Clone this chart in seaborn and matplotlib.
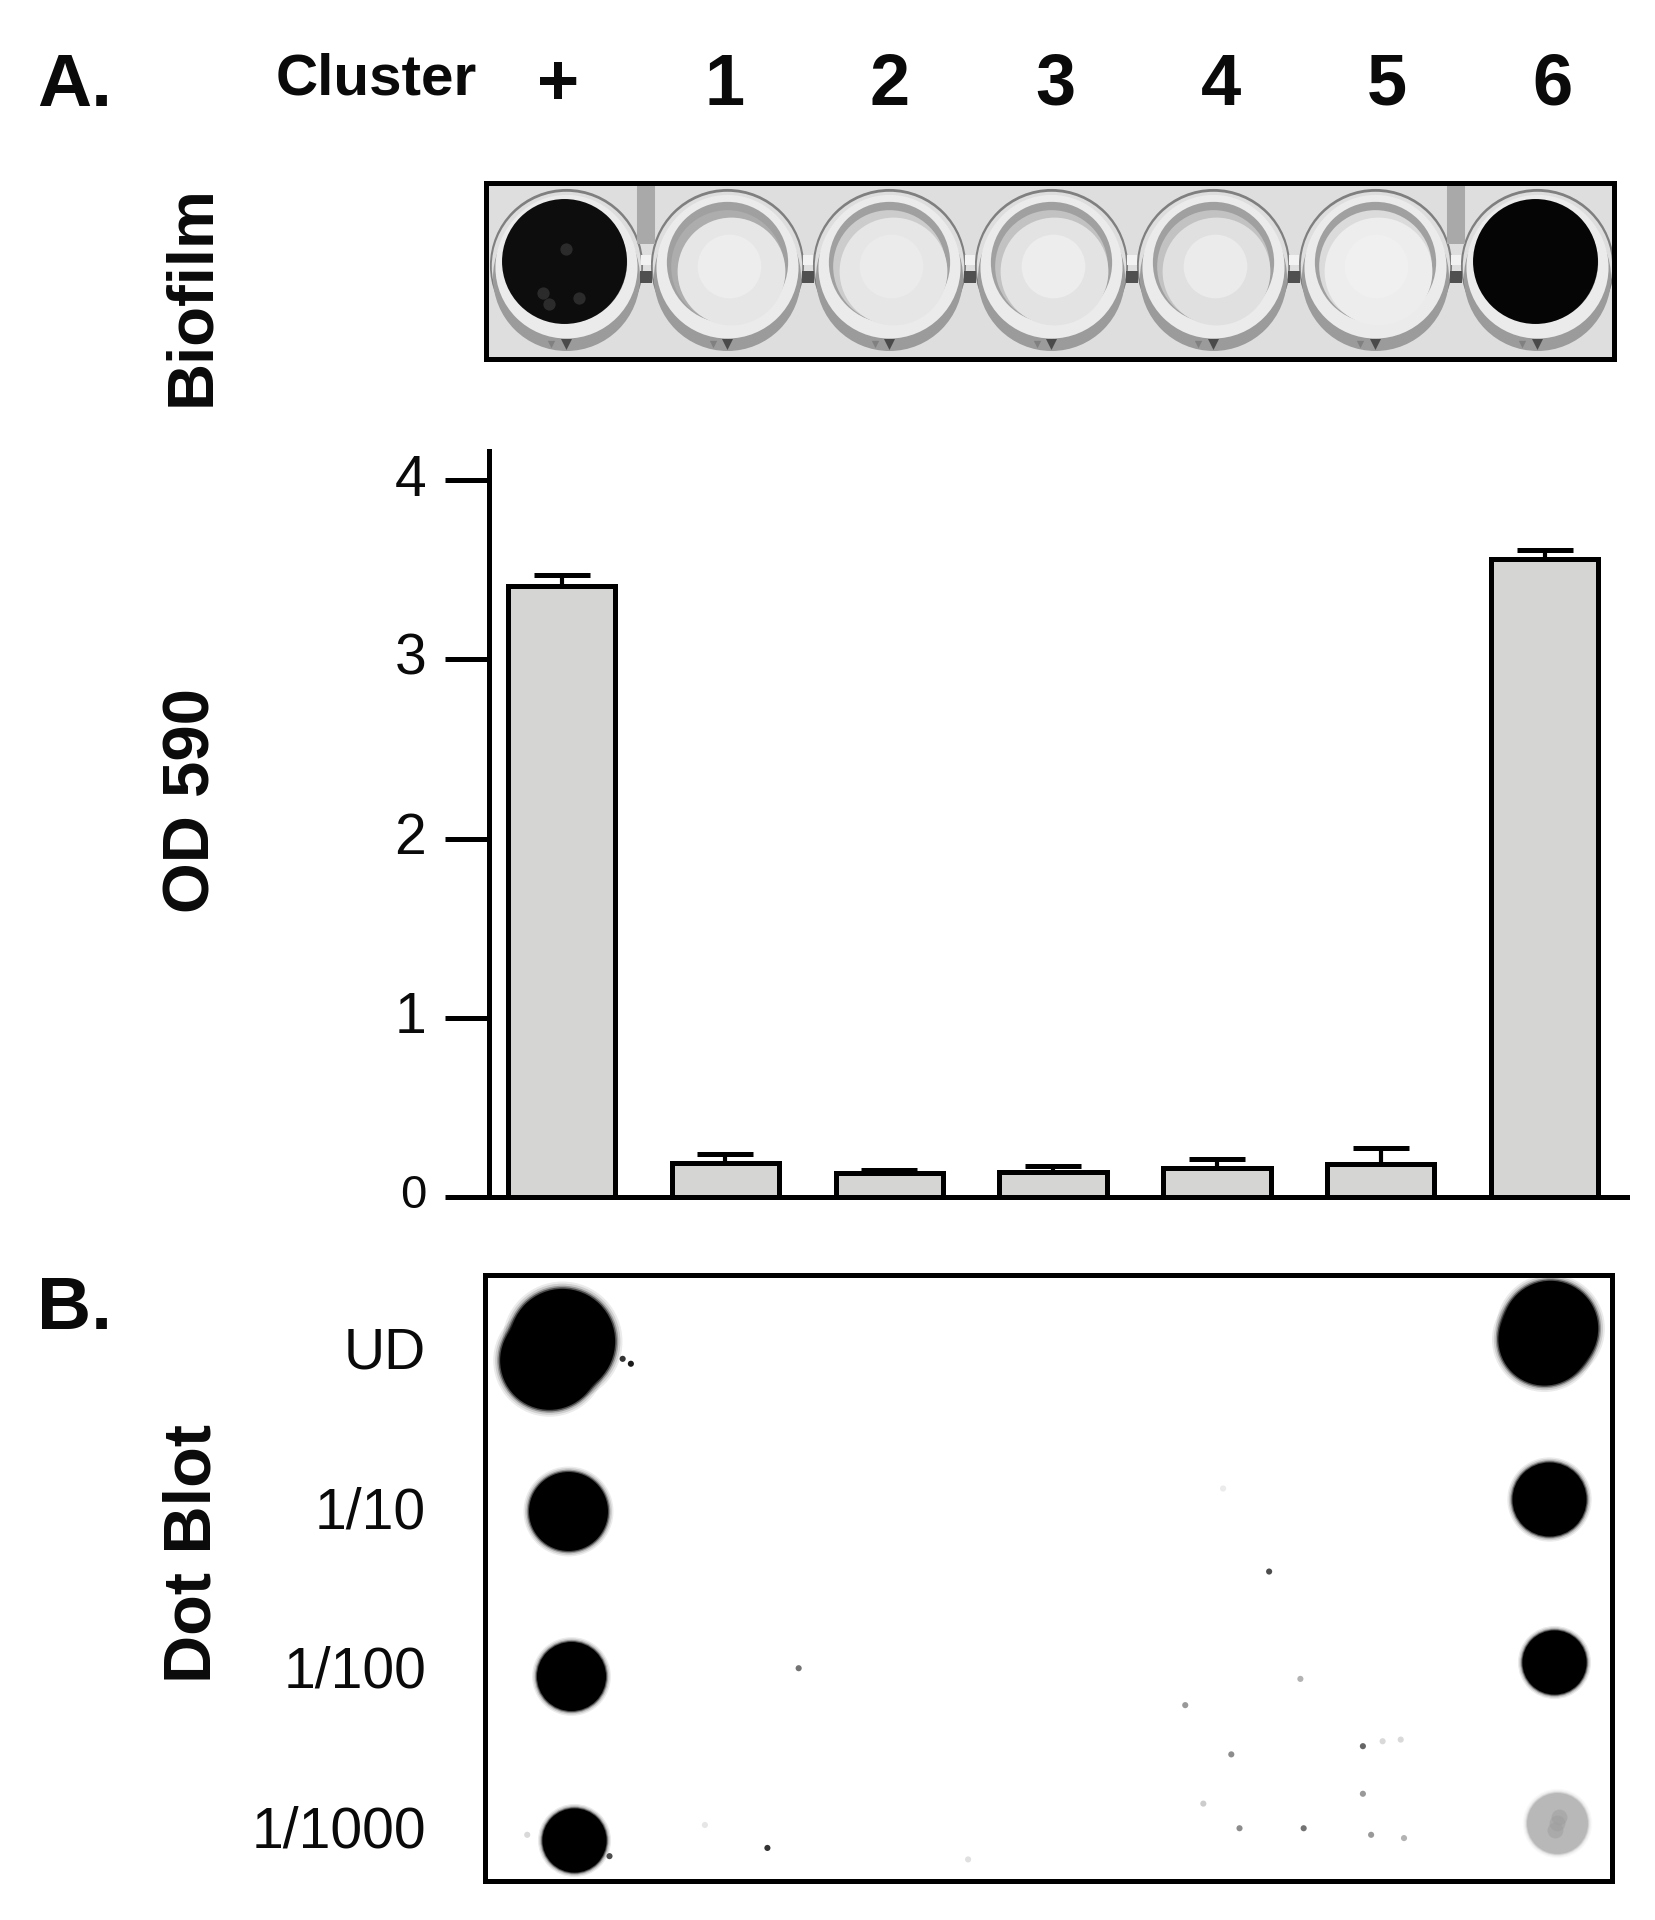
import matplotlib
matplotlib.use('Agg')
import matplotlib.pyplot as plt
from matplotlib.transforms import ScaledTranslation
import pandas as pd
import seaborn as sns

# bar panel values
clusters = ['+', '1', '2', '3', '4', '5', '6']
od_590 = [3.41, 0.19, 0.13, 0.14, 0.16, 0.18, 3.56]
od_err = [0.06, 0.05, 0.02, 0.03, 0.05, 0.09, 0.05]
od_ticks = [0, 1, 2, 3, 4]

# stained plate: grey level of each well floor (0 black, 1 white)
well_stain = [0.05, 0.90, 0.90, 0.89, 0.88, 0.93, 0.02]
well_centre = [None, 0.93, 0.92, 0.93, 0.92, 0.94, None]
well_shade = [None, 0.68, 0.80, 0.76, 0.76, 0.86, None]

# dot blot, cols are cluster positions and rows are dilution steps
dilutions = ['UD', '1/10', '1/100', '1/1000']
blot_col = [-0.01, -0.09, 0.03, 0.045, 0.067, 6.0, 5.96, 5.99, 6.02, 6.04]
blot_row = [-0.04, 0.08, 1.0, 2.0, 3.0, -0.12, -0.05, 0.925, 1.92, 2.90]
blot_size = [0.64, 0.60, 0.48, 0.42, 0.39, 0.58, 0.56, 0.45, 0.39, 0.37]
blot_grey = [0.0, 0.0, 0.0, 0.0, 0.0, 0.0, 0.0, 0.0, 0.0, 0.72]

speck_col = [1.43, 1.24, 4.29, 3.78, 4.48, 4.06, 4.86, 4.86, 4.11, 4.50, 4.91, 5.11,
             3.89, 4.98, 5.09, 4.01, 2.46, 0.86, 0.41, 0.36, 0.28, -0.22]
speck_row = [1.955, 3.05, 1.366, 2.18, 2.02, 2.48, 2.43, 2.72, 2.93, 2.93, 2.97, 2.99,
             2.78, 2.40, 2.39, 0.86, 3.12, 2.91, 0.10, 0.07, 3.10, 2.97]
speck_grey = [0.45, 0.2, 0.3, 0.6, 0.7, 0.55, 0.4, 0.6, 0.55, 0.45, 0.6, 0.7,
              0.8, 0.85, 0.85, 0.92, 0.88, 0.9, 0.1, 0.2, 0.3, 0.85]

WIDTH, HEIGHT = 1656, 1920
REF = 1656 / 1352  # layout was measured on a 1352 wide view
LINE = 3.6

sns.set_style('white')
plt.rcParams['font.family'] = ['Liberation Sans', 'DejaVu Sans']

figure = plt.figure(figsize=(WIDTH / 100, HEIGHT / 100), dpi=100, facecolor='white')


def panel(left, top, right, bottom):
    """Axes placed from edges measured on the reference view."""
    rect = [left * REF / WIDTH, 1 - bottom * REF / HEIGHT,
            (right - left) * REF / WIDTH, (bottom - top) * REF / HEIGHT]
    return figure.add_axes(rect)


def label(x, y, text, size, bold=False, ha='center', rotation=0):
    figure.text(x * REF / WIDTH, 1 - y * REF / HEIGHT, text, fontsize=size,
                fontweight='bold' if bold else 'normal', ha=ha, va='center',
                rotation=rotation, color='#0a0a0a')


def area(diameter):
    """Scatter size for a diameter given in reference view pixels."""
    return (diameter * REF * 0.72) ** 2


# plate photo
plate = panel(397, 149, 1318, 293)
plate.set_xlim(-0.49, 6.48)
plate.set_ylim(76, -68)
plate.set_facecolor('#dedede')
wells = pd.DataFrame({'well': range(7), 'floor': well_stain})


def well_layer(y, diameter, color):
    sns.scatterplot(data=wells, x='well', y=[y] * 7, s=area(diameter), color=color,
                    linewidth=0, legend=False, ax=plate)


plate.vlines([0.5, 5.5], -68, -18, color='#a9a9a9', linewidth=13)
well_layer(-1, 125, '#7f7f7f')
well_layer(0, 122, '#dedede')
well_layer(9, 120, '#9b9b9b')
well_layer(1, 116, '#ebebeb')
well_layer(-2, 112, '#ebebeb')
well_layer(-3, 99, '#a0a0a0')
for i, stain in enumerate(well_stain):
    grey = str(stain)
    if well_shade[i] is None:
        plate.scatter(i - 0.01, -4, s=area(102), color=grey, linewidth=0)
        continue
    plate.scatter(i, 0, s=area(92), color=str(well_shade[i]), linewidth=0)
    plate.scatter(i + 0.02, 4, s=area(88), color=grey, linewidth=0)
    plate.scatter(i + 0.01, 0, s=area(52), color=str(well_centre[i]), linewidth=0)
# stain is patchy in the positive control well
plate.scatter([-0.14, -0.1, 0.08, 0.0], [22, 31, 26, -14], s=area(10), color='#2b2b2b', linewidth=0)
# necks joining the wells and the moulded tabs under them
plate.scatter([0.5, 1.5, 2.5, 3.5, 4.5, 5.5], [-5] * 6, s=area(8), marker='s', color='#f2f2f2',
              linewidth=0)
plate.scatter([0.5, 1.5, 2.5, 3.5, 4.5, 5.5], [9] * 6, s=area(9), marker='s', color='#505050',
              linewidth=0)
plate.scatter(range(7), [64] * 7, s=area(9), marker='v', color='#4a4a4a', linewidth=0)
plate.scatter([i - 0.09 for i in range(7)], [64] * 7, s=area(6), marker='v', color='#808080', linewidth=0)
plate.set_xticks([])
plate.set_yticks([])
plate.set_xlabel('')
plate.set_ylabel('')
for spine in plate.spines.values():
    spine.set_linewidth(LINE)
    spine.set_color('black')

# OD bars
bars = panel(399, 368, 1328, 977)
sns.barplot(x=clusters, y=od_590, color='#d5d5d3', edgecolor='black', linewidth=LINE,
            width=0.655, saturation=1, ax=bars)
bars.errorbar(x=range(len(clusters)), y=od_590, yerr=[[0] * 7, od_err], fmt='none',
              ecolor='black', elinewidth=3, capsize=20, capthick=LINE, zorder=1)
bars.set_xlim(-0.445, 6.50)
bars.set_ylim(0, (976 - 367) / 146.2)
bars.set_xticks([])
bars.set_yticks(od_ticks)
bars.tick_params(axis='y', left=True, length=32, width=LINE, pad=13, labelsize=41, color='black',
                 labelcolor='#0a0a0a')
shift_up = ScaledTranslation(0, 4 / 72, figure.dpi_scale_trans)
for tick_label in bars.get_yticklabels():
    tick_label.set_transform(tick_label.get_transform() + shift_up)
bars.get_yticklabels()[0].set_fontsize(34)
for side in ['top', 'right']:
    bars.spines[side].set_visible(False)
for side in ['left', 'bottom']:
    bars.spines[side].set_linewidth(LINE)
    bars.spines[side].set_color('black')

# dot blot
blot = panel(396, 1041, 1316, 1536)
blot.set_xlim((396 - 460) / 134.3, (1316 - 460) / 134.3)
blot.set_ylim((1536 - 1100) / 134, (1041 - 1100) / 134)
blot_table = pd.DataFrame({'col': blot_col, 'row': blot_row, 'size': blot_size, 'grey': blot_grey})
for grow, alpha in [(1.14, 0.08), (1.1, 0.12), (1.06, 0.25), (1.03, 0.5), (1.0, 1.0)]:
    for _, dot in blot_table.iterrows():
        sns.scatterplot(x=[dot['col']], y=[dot['row']], s=area(dot['size'] * 134.3 * grow),
                        color=str(dot['grey']), alpha=alpha, linewidth=0, legend=False, ax=blot)
# the faint dot is mottled, darker down its middle
sns.scatterplot(x=[6.05, 6.04, 6.03], y=[2.86, 2.90, 2.94], s=area(13), color='0.62', alpha=0.5,
                linewidth=0, legend=False, ax=blot)
sns.scatterplot(x=speck_col, y=speck_row, s=area(5), c=[str(g) for g in speck_grey],
                linewidth=0, legend=False, ax=blot)
blot.set_xticks([])
blot.set_yticks([])
blot.set_xlabel('')
blot.set_ylabel('')
for spine in blot.spines.values():
    spine.set_linewidth(LINE)
    spine.set_color('black')

# lettering around the panels
label(61, 71, 'A.', 54, bold=True)
label(61, 1069, 'B.', 54, bold=True)
label(307, 65, 'Cluster', 42, bold=True)
for i, name in enumerate(clusters):
    label(456 + 135.3 * i, 70, name, 52, bold=True)
label(157, 241, 'Biofilm', 47, bold=True, rotation=90)
label(157, 654, 'OD 590', 47, bold=True, rotation=90)
label(158, 1268, 'Dot Blot', 48, bold=True, rotation=90)
for i, name in enumerate(dilutions):
    label(348, 1105 + 130.3 * i, name, 41, ha='right')

figure.savefig('out.png', dpi=100)
